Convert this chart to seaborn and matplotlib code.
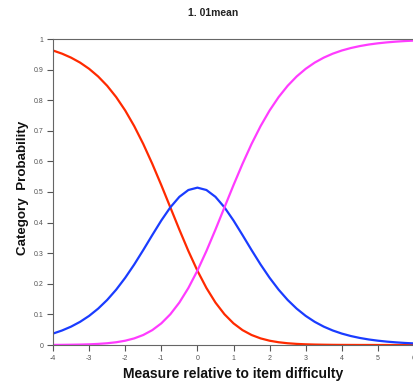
import numpy as np
import pandas as pd
import matplotlib
matplotlib.use("Agg")
import matplotlib.pyplot as plt
import seaborn as sns

measure = [-4.0, -3.75, -3.5, -3.25, -3.0, -2.75, -2.5, -2.25, -2.0, -1.75, -1.5, -1.25,
           -1.0, -0.75, -0.5, -0.25, 0.0, 0.25, 0.5, 0.75, 1.0, 1.25, 1.5, 1.75, 2.0,
           2.25, 2.5, 2.75, 3.0, 3.25, 3.5, 3.75, 4.0, 4.25, 4.5, 4.75, 5.0, 5.25, 5.5,
           5.75, 6.0]
cat_low = [0.9624, 0.9521, 0.9391, 0.9229, 0.9026, 0.8776, 0.8471, 0.8102, 0.7664, 0.7153,
           0.6570, 0.5922, 0.5224, 0.4498, 0.3771, 0.3072, 0.2429, 0.1863, 0.1387, 0.1004,
           0.0707, 0.0486, 0.0327, 0.0216, 0.0140, 0.0090, 0.0057, 0.0036, 0.0022, 0.0014,
           0.0009, 0.0005, 0.0003, 0.0002, 0.0001, 0.0001, 0.0, 0.0, 0.0, 0.0, 0.0]
cat_mid = [0.0373, 0.0474, 0.0600, 0.0757, 0.0951, 0.1188, 0.1472, 0.1808, 0.2196, 0.2631,
           0.3103, 0.3592, 0.4069, 0.4498, 0.4842, 0.5065, 0.5142, 0.5065, 0.4842, 0.4498,
           0.4069, 0.3592, 0.3103, 0.2631, 0.2196, 0.1808, 0.1472, 0.1188, 0.0951, 0.0757,
           0.0600, 0.0474, 0.0373, 0.0293, 0.0230, 0.0180, 0.0141, 0.0110, 0.0086, 0.0067,
           0.0052]
cat_high = [0.0003, 0.0005, 0.0009, 0.0014, 0.0022, 0.0036, 0.0057, 0.0090, 0.0140, 0.0216,
            0.0327, 0.0486, 0.0707, 0.1004, 0.1387, 0.1863, 0.2429, 0.3072, 0.3771, 0.4498,
            0.5224, 0.5922, 0.6570, 0.7153, 0.7664, 0.8102, 0.8471, 0.8776, 0.9026, 0.9229,
            0.9391, 0.9521, 0.9624, 0.9705, 0.9769, 0.9820, 0.9859, 0.9890, 0.9914, 0.9933,
            0.9948]
series_names = ["0", "1", "2"]
colors = ["#ff2a00", "#1a3cff", "#ff3cff"]
x_ticks = [-4, -3, -2, -1, 0, 1, 2, 3, 4, 5, 6]
y_ticks = [0, 0.1, 0.2, 0.3, 0.4, 0.5, 0.6, 0.7, 0.8, 0.9, 1]
y_tick_labels = ["0", "0.1", "0.2", "0.3", "0.4", "0.5", "0.6", "0.7", "0.8", "0.9", "1"]

df = pd.concat([
    pd.DataFrame({"Measure": measure, "Prob": vals, "Cat": name})
    for name, vals in zip(series_names, [cat_low, cat_mid, cat_high])
])

sns.set_style("white")
plt.rcParams["font.family"] = ["Liberation Sans", "DejaVu Sans"]

W, H = 413, 384
fig = plt.figure(figsize=(W / 100, H / 100), dpi=100)
ax = fig.add_axes([53 / W, (H - 345) / H, 361 / W, 306 / H])

sns.lineplot(data=df, x="Measure", y="Prob", hue="Cat", palette=colors,
             linewidth=1.6, legend=False, ax=ax)

ax.set_xlim(-4, 6)
ax.set_ylim(0, 1)
ax.set_xticks(x_ticks)
ax.set_xticklabels([str(t) for t in x_ticks])
ax.set_yticks(y_ticks)
ax.set_yticklabels(y_tick_labels)
ax.tick_params(axis="both", direction="out", length=4, width=0.8, colors="#555555",
               labelsize=5, labelcolor="#555555", pad=3)
ax.tick_params(axis="x", bottom=True)
ax.tick_params(axis="y", left=True)
for s in ["left", "bottom", "top"]:
    ax.spines[s].set_color("#666666")
    ax.spines[s].set_linewidth(0.8)
ax.spines["right"].set_visible(False)
ax.set_xlabel("")
ax.set_ylabel("")

fig.text(213 / W, 1 - 13 / H, "1. 01mean", ha="center", va="center", fontsize=7.5,
         fontweight="bold", color="#222222")
fig.text(233 / W, 1 - 374 / H, "Measure relative to item difficulty", ha="center",
         va="center", fontsize=10, fontweight="bold", color="#111111")
fig.text(23 / W, 1 - 188 / H, "Category  Probability", ha="center", va="center",
         fontsize=9.6, fontweight="bold", rotation=90, color="#111111")

fig.savefig("out.png", dpi=100)
